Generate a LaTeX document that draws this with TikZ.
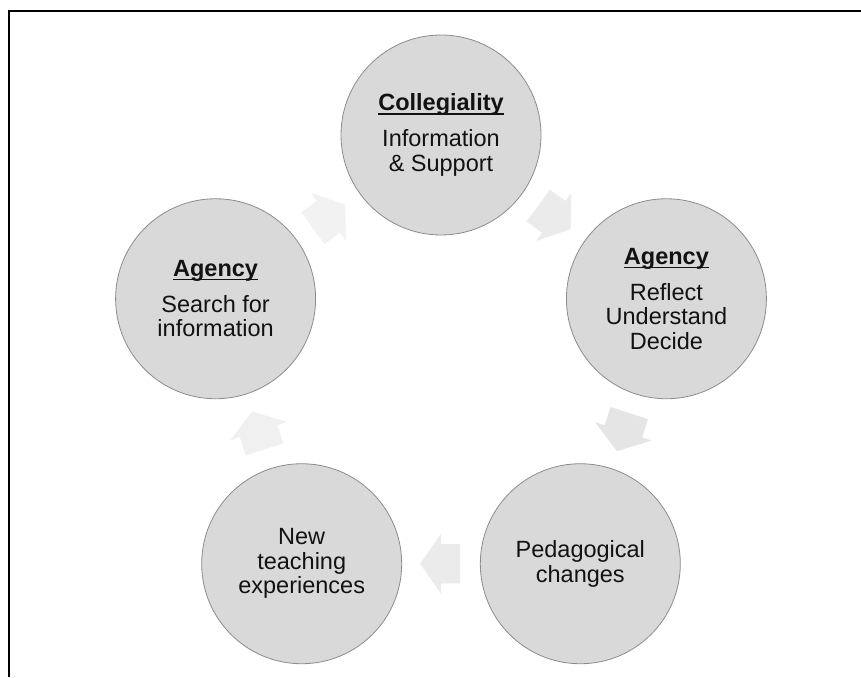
\documentclass[tikz,border=0pt]{standalone}
\usepackage{fontspec}
\setmainfont{Liberation Sans}
\usetikzlibrary{calc,shapes.arrows}
\newcommand{\hdul}[1]{\setbox0\hbox{#1}\rlap{\rule[-4pt]{\wd0}{1.6pt}}\box0}

\begin{document}
\begin{tikzpicture}[x=1pt,y=1pt,
  cyclenode/.style={circle,draw=black!45,line width=0.8pt,fill=black!15,
    minimum size=200pt,inner sep=0pt,align=center,text=black!93,
    font=\fontsize{23.5}{24.5}\selectfont},
  cyclearrow/.style={single arrow,draw=none,inner xsep=0pt,inner ysep=19.5pt,
    minimum height=40pt,single arrow head extend=10pt,
    single arrow tip angle=110}]
\useasboundingbox (0,0) rectangle (861,677);
%Frame
\draw[line width=2pt] (9,0) -- (9,666) -- (861,666);
            % Vertices
\coordinate (ctr) at (441,305);
\node[cyclenode] (coll)  at ([shift={(90:237)}]ctr)   {\hdul{\textbf{Collegiality}}\\[11.5pt]Information\\\& Support};
\node[cyclenode] (refl)  at ([shift={(18:237)}]ctr)   {\hdul{\textbf{Agency}}\\[11.5pt]Reflect\\Understand\\Decide};
\node[cyclenode] (peda)  at ([shift={(-54:237)}]ctr)  {Pedagogical\\changes};
\node[cyclenode] (teach) at ([shift={(-126:237)}]ctr) {New\\teaching\\experiences};
\node[cyclenode] (srch)  at ([shift={(162:237)}]ctr)  {\hdul{\textbf{Agency}}\\[11.5pt]Search for\\information};
%Arrows
\node[cyclearrow,fill=black!8,rotate=-36,xshift=-6pt]  (a1) at ($(coll)!0.5!(refl)$)   {};
\node[cyclearrow,fill=black!10,rotate=-108,xshift=-6pt] (a2) at ($(refl)!0.5!(peda)$)  {};
\node[cyclearrow,fill=black!8,rotate=180,xshift=-6pt]  (a3) at ($(peda)!0.5!(teach)$)  {};
\node[cyclearrow,fill=black!6,rotate=108,xshift=-6pt]  (a4) at ($(teach)!0.5!(srch)$)  {};
\node[cyclearrow,fill=black!5,rotate=36,xshift=-6pt]   (a5) at ($(srch)!0.5!(coll)$)   {};
\end{tikzpicture}
\end{document}
